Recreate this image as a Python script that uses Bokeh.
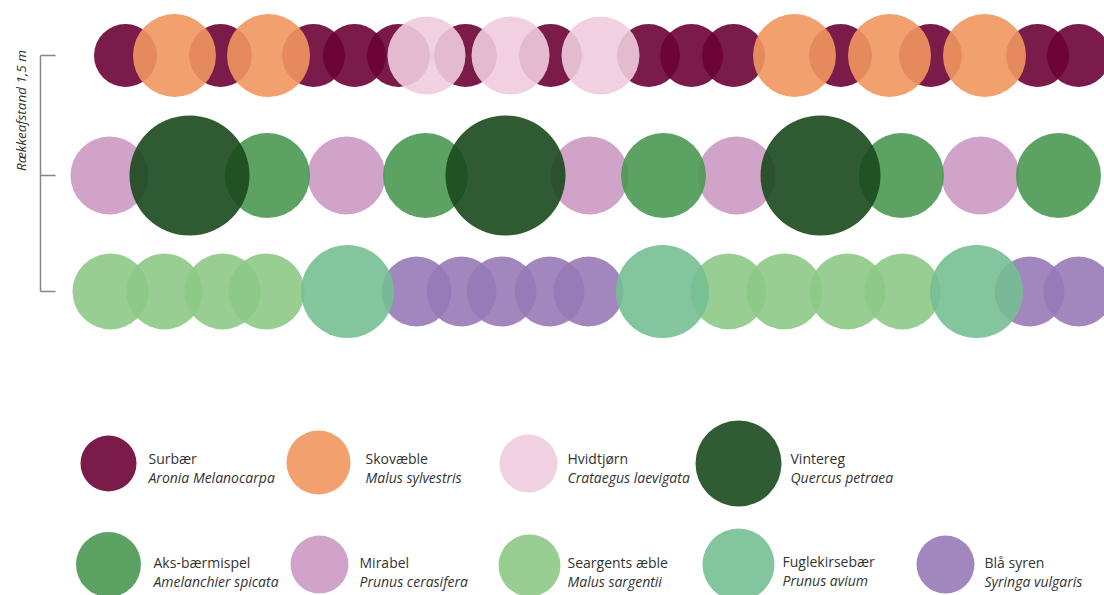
import math
from bokeh.plotting import figure
from bokeh.models import Range1d, ColumnDataSource
from bokeh.core.properties import value
from bokeh.embed import file_html
from bokeh.resources import INLINE

# ---------------- data ----------------
species_codes = ["S", "K", "H", "V", "A", "M", "Sa", "F", "B"]
species_names = ["Surbær", "Skovæble", "Hvidtjørn", "Vintereg", "Aks-bærmispel",
                 "Mirabel", "Seargents æble", "Fuglekirsebær", "Blå syren"]
species_latin = ["Aronia Melanocarpa", "Malus sylvestris", "Crataegus laevigata",
                 "Quercus petraea", "Amelanchier spicata", "Prunus cerasifera",
                 "Malus sargentii", "Prunus avium", "Syringa vulgaris"]
# crown radius of each species in the rows
crown_radius = [31.5, 41.5, 39, 60, 42.5, 39, 38, 46.5, 35]

# plant positions along each row and species planted there
row1_x = [125, 174, 220, 268, 313, 354, 398, 426, 465, 510, 550, 600, 648, 691,
          733, 794, 840, 889, 930, 984, 1037, 1078]
row1_sp = ["S", "K", "S", "K", "S", "S", "S", "H", "S", "H", "S", "H", "S", "S",
           "S", "K", "S", "K", "S", "K", "S", "S"]
row2_x = [109, 189, 267, 346, 425, 505, 589, 663, 736, 820, 901, 980, 1058]
row2_sp = ["M", "V", "A", "M", "A", "V", "M", "A", "M", "V", "A", "M", "A"]
row3_x = [110, 164, 222, 266, 347, 416, 461, 501, 549, 588, 662, 728, 784, 847,
          902, 976, 1029, 1078]
row3_sp = ["Sa", "Sa", "Sa", "Sa", "F", "B", "B", "B", "B", "B", "F", "Sa", "Sa",
           "Sa", "Sa", "F", "B", "B"]
row_label = "Rækkeafstand 1,5 m"

# ---------------- style ----------------
colors = {"S": "#7a1b49", "K": "#f2a16e", "H": "#f1d1e1", "V": "#315b33",
          "A": "#5ca263", "M": "#d2a3c9", "Sa": "#98ce92", "F": "#83c59d",
          "B": "#a286be"}
ROW_ALPHA = 0.9
row_y = [55, 175, 291]
row_draw_order = [["S", "K", "H"], ["M", "A", "V"], ["Sa", "B", "F"]]
legend_radius = [28, 32, 29, 43, 32.5, 29, 31, 36, 29]
legend_cx = [108, 318, 528, 738, 108, 319, 529, 738, 945]
legend_cy = [463, 462, 463, 463, 564, 564, 565, 564, 564]
legend_tx = [148, 365, 567, 790, 153, 359, 567, 782, 984]
legend_ty = [458, 458, 458, 458, 562, 562, 562, 561, 562]
LINE_GAP = 19
TEXT_COLOR = "#333333"
FONT = value("Open Sans")
FSIZE = "14px"


def base_for_alpha(hex_color, a):
    h = hex_color.lstrip("#")
    out = []
    for i in (0, 2, 4):
        c = int(h[i:i + 2], 16)
        b = 255 - (255 - c) / a
        out.append(max(0, min(255, round(b))))
    return "#%02x%02x%02x" % tuple(out)


W, H = 1104, 595
p = figure(width=W, height=H, output_backend="svg", toolbar_location=None,
           x_range=Range1d(0, W), y_range=Range1d(H, 0),
           min_border=0, outline_line_color=None)
p.axis.visible = False
p.grid.visible = False
p.background_fill_color = "white"
p.border_fill_color = "white"

rad = dict(zip(species_codes, crown_radius))
rows = [(row1_x, row1_sp), (row2_x, row2_sp), (row3_x, row3_sp)]
for (xs, sps), y, order in zip(rows, row_y, row_draw_order):
    for code in order:
        sel = [x for x, s in zip(xs, sps) if s == code]
        src = ColumnDataSource(dict(x=sel, y=[y] * len(sel),
                                    r=[rad[code]] * len(sel)))
        p.circle(x="x", y="y", radius="r", source=src,
                 fill_color=base_for_alpha(colors[code], ROW_ALPHA),
                 fill_alpha=ROW_ALPHA, line_color=None)

# bracket for row spacing
bx0, bx1 = 40, 55
p.segment(x0=[bx0], y0=[row_y[0]], x1=[bx0], y1=[row_y[2]],
          line_color="#858585", line_width=1.5)
p.segment(x0=[bx0] * 3, y0=row_y, x1=[bx1] * 3, y1=row_y,
          line_color="#858585", line_width=1.5)
p.text(x=[20], y=[110], text=[row_label], angle=math.pi / 2,
       text_align="center", text_baseline="middle", text_font=FONT,
       text_font_size="13.5px", text_font_style="italic", text_color=TEXT_COLOR)

# legend
p.circle(x=legend_cx, y=legend_cy, radius=legend_radius,
         fill_color=[colors[c] for c in species_codes], line_color=None)
p.text(x=legend_tx, y=legend_ty, text=species_names, text_align="left",
       text_baseline="alphabetic", text_font=FONT, text_font_size=FSIZE,
       text_color=TEXT_COLOR)
p.text(x=legend_tx, y=[t + LINE_GAP for t in legend_ty], text=species_latin,
       text_align="left", text_baseline="alphabetic", text_font=FONT,
       text_font_size=FSIZE, text_font_style="italic", text_color=TEXT_COLOR)

open("out.html", "w").write(file_html(p, INLINE))
